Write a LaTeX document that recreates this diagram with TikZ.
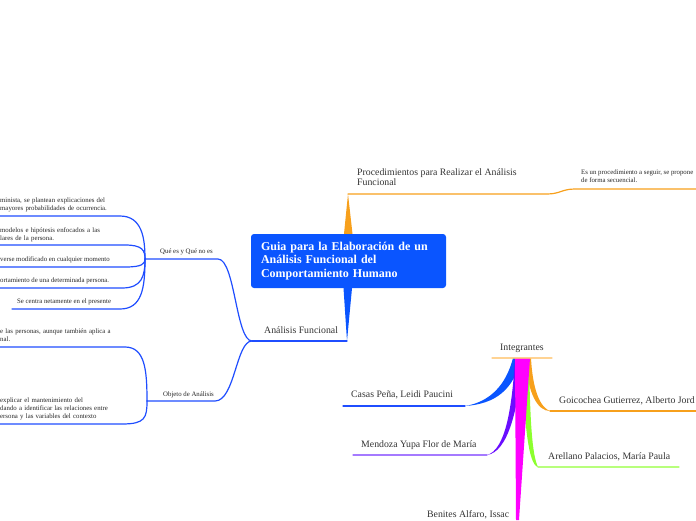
\documentclass[tikz,border=0pt]{standalone}
\usepackage{fontspec}
\setmainfont{Liberation Serif}
\usepackage{xcolor}
\usepackage{tikz}
\usetikzlibrary{positioning,calc}

\definecolor{cblue}{HTML}{0A55FF}
\definecolor{lblue}{HTML}{1F4DFF}
\definecolor{corange}{HTML}{F7A01C}
\definecolor{lorange}{HTML}{FFC878}
\definecolor{cpurple}{HTML}{6A0DFF}
\definecolor{lpurple}{HTML}{A57AFF}
\definecolor{cmagenta}{HTML}{FF00FF}
\definecolor{cgreen}{HTML}{8CFF2E}
\definecolor{lgreen}{HTML}{B8FF7C}
\definecolor{ctext}{HTML}{333333}

\begin{document}
\begin{tikzpicture}[x=1pt, y=-1pt,
    title/.style={rectangle, rounded corners=3pt, fill=cblue, text=white, minimum width=195pt, minimum height=54pt, text width=175pt, align=left, font=\bfseries\fontsize{12}{13.5}\selectfont},
    topic/.style={anchor=base west, inner sep=0pt, text=ctext, align=left, font=\fontsize{9.8}{9.8}\selectfont},
    note/.style={anchor=base west, inner sep=0pt, text=black!85, align=left, font=\fontsize{6.8}{8.3}\selectfont},
    branch/.style={line width=1.2pt, line cap=round},
    stem/.style={draw=none}
]
\useasboundingbox (0,0) rectangle (696,520);

% Central topic
\node[title] (guia) at (348.5,261) {Guia para la Elaboración de un\\Análisis Funcional del\\Comportamiento Humano};

% Branch 1: Procedimientos
\coordinate (procA) at (348,194);
\coordinate (procB) at (547,194);
\coordinate (procC) at (575,189);
\coordinate (procD) at (696,189);
\fill[corange] ($(guia.north)+(-4.5,0)$) -- (procA) -- ($(guia.north)+(4,0)$) -- cycle;
\draw[branch, corange] (procA) -- (procB) .. controls (560,194) and (562,189) .. (procC) -- (procD);
\node[topic, anchor=north west] (proc) at (357,168.5) {Procedimientos para Realizar el Análisis\\Funcional};
\node[note, anchor=north west] (procnote) at (581,169.5) {Es un procedimiento a seguir, se propone\\de forma secuencial.};

% Branch 2: Analisis Funcional
\coordinate (anaR) at (347,341);
\coordinate (anaL) at (252,341);
\fill[cblue] ($(guia.south)+(-5,0)$) -- (anaR) -- ($(guia.south)+(3.5,0)$) -- cycle;
\draw[branch, lblue] (anaR) -- (anaL);
\node[topic] (ana) at (264,333) {Análisis Funcional};

% Que es y Que no es
\coordinate (queR) at (218,259);
\coordinate (queL) at (145,259);
\draw[branch, lblue] (anaL) .. controls (236,341) and (235,259) .. (queR) -- (queL);
\node[note] (que) at (160,253) {Qué es y Qué no es};

\coordinate (q1) at (120,216);
\coordinate (q2) at (125,245);
\coordinate (q3) at (125,267);
\coordinate (q4) at (122,288);
\coordinate (q5) at (120,309);
\draw[branch, lblue] (queL) .. controls (145,238) and (142,216) .. (q1) -- (0,216);
\draw[branch, lblue] (queL) .. controls (145,250) and (142,245) .. (q2) -- (0,245);
\draw[branch, lblue] (queL) .. controls (145,264) and (142,267) .. (q3) -- (0,267);
\draw[branch, lblue] (queL) .. controls (145,276) and (142,288) .. (q4) -- (0,288);
\draw[branch, lblue] (queL) .. controls (145,288) and (142,309) .. (q5) -- (12,309);
\node[note, text width=130pt] (n1) at (0,202) {minista, se plantean explicaciones del\\mayores probabilidades de ocurrencia.};
\node[note, text width=130pt] (n2) at (0,232) {modelos e hipótesis enfocados a las\\lares de la persona.};
\node[note] (n3) at (0,261) {verse modificado en cualquier momento};
\node[note] (n4) at (0,282) {ortamiento de una determinada persona.};
\node[note] (n5) at (17,303) {Se centra netamente en el presente};

% Objeto de Analisis
\coordinate (objR) at (215,401);
\coordinate (objL) at (147,401);
\draw[branch, lblue] (anaL) .. controls (236,341) and (235,401) .. (objR) -- (objL);
\node[note] (obj) at (163,396) {Objeto de Análisis};

\coordinate (o1) at (125,347);
\coordinate (o2) at (122,424);
\draw[branch, lblue] (objL) .. controls (147,370) and (145,347) .. (o1) -- (0,347);
\draw[branch, lblue] (objL) .. controls (147,418) and (145,424) .. (o2) -- (0,424);
\node[note, text width=130pt] (n6) at (0,333) {e las personas, aunque también aplica a\\nal.};
\node[note, text width=130pt] (n7) at (0,402) {explicar el mantenimiento del\\dando a identificar las relaciones entre\\ersona y las variables del contexto};

% Integrantes
\coordinate (intL) at (492,358);
\coordinate (intR) at (552,358);
\node[topic] (integ) at (500,350) {Integrantes};

\coordinate (casasR) at (465,406);
\coordinate (mendR) at (487,455);
\coordinate (goicL) at (550,411);
\coordinate (arelL) at (538,467);
\coordinate (beniB) at (517.5,520);

\fill[stem, cblue] (513,358) .. controls (506,385) and (490,402) .. (casasR) .. controls (495,404) and (514,390) .. (521,358) -- cycle;
\fill[stem, cpurple] (515,358) .. controls (512,410) and (505,450) .. (mendR) .. controls (508,452) and (518,410) .. (523,358) -- cycle;
\fill[stem, corange] (525,358) .. controls (528,395) and (538,411) .. (goicL) .. controls (542,408) and (533,395) .. (531,358) -- cycle;
\fill[stem, cgreen] (522,358) .. controls (524,420) and (528,465) .. (arelL) .. controls (532,455) and (530,420) .. (529,358) -- cycle;
\fill[stem, cmagenta] (515,358) -- ($(beniB)+(-1.5,0)$) -- ($(beniB)+(1.5,0)$) -- (530,358) -- cycle;
\draw[branch, lorange, opacity=0.8] (intL) -- (intR);

\draw[branch, lblue] (casasR) -- (343,406);
\draw[branch, lpurple] (mendR) -- (353,455);
\draw[branch, corange] (goicL) -- (696,411);
\draw[branch, lgreen] (arelL) -- (679,467);

\node[topic] (casas) at (351,397) {Casas Peña, Leidi Paucini};
\node[topic] (mend) at (361,447) {Mendoza Yupa Flor de María};
\node[topic] (goic) at (559,403) {Goicochea Gutierrez, Alberto Jord};
\node[topic] (arel) at (548,459) {Arellano Palacios, María Paula};
\node[topic] (beni) at (427,517) {Benites Alfaro, Issac};

\end{tikzpicture}
\end{document}
